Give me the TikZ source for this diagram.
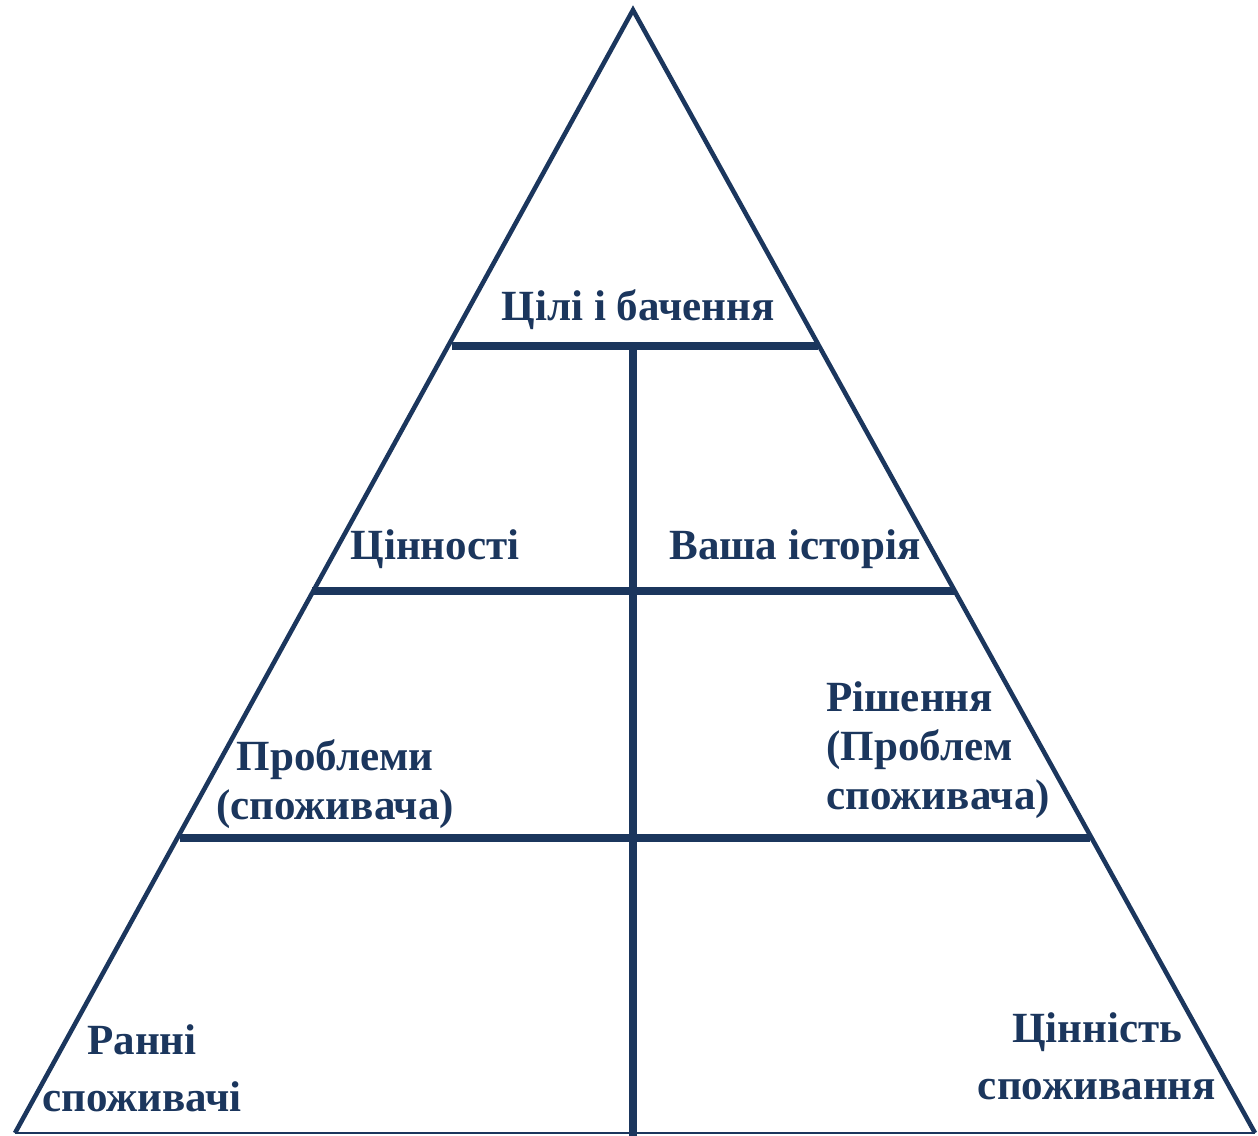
\documentclass[tikz,border=0pt]{standalone}
\usepackage{fontspec}
\setmainfont{Liberation Serif}
\usetikzlibrary{calc,positioning}
\definecolor{pyrblue}{HTML}{1B365D}
\tikzset{
    edge/.style = {draw=pyrblue, line width=2.6pt, line join=miter},
    bar/.style = {draw=pyrblue, line width=4.8pt},
    label/.style = {text=pyrblue, font=\bfseries\fontsize{24.5}{28}\selectfont, align=center, inner sep=0pt},
    wide/.style = {font=\bfseries\fontsize{24.5}{32.5}\selectfont}
}

\begin{document}
\begin{tikzpicture}[x=0.02cm, y=-0.02cm]
            \useasboundingbox (0,0) rectangle (1258,1136);
            % corners of the pyramid
            \coordinate (top) at (633,10);
            \coordinate (bl) at (15,1133);
            \coordinate (br) at (1255,1133);
            % level bars
            \coordinate (l1) at (452,346);
            \coordinate (r1) at (818,346);
            \coordinate (l2) at (312,591);
            \coordinate (r2) at (955,591);
            \coordinate (l3) at (180,838);
            \coordinate (r3) at (1090,838);
            \coordinate (m1) at (633,346);
            \coordinate (m4) at (633,1136);
            \draw[edge] (bl) -- (top) -- (br);
            \draw[draw=pyrblue, line width=1.2pt] (bl) -- (br);
            \draw[bar] (l1) -- (r1);
            \draw[bar] (l2) -- (r2);
            \draw[bar] (l3) -- (r3);
            \draw[bar] (m1) -- (m4);
            % texts
            \node [label] (goal) at (638,310) {Цілі і бачення};
            \node [label] (val) at (435,549) {Цінності};
            \node [label] (story) at (795,549) {Ваша історія};
            \node [label] (prob) at (335,784) {Проблеми\\(споживача)};
            \node [label, align=left, anchor=west] (sol) at (826,750) {Рішення\\(Проблем\\споживача)};
            \node [label, wide] (early) at (142,1068) {Ранні\\споживачі};
            \node [label, wide] (use) at (1097,1056) {Цінність\\споживання};
        \end{tikzpicture}
\end{document}
